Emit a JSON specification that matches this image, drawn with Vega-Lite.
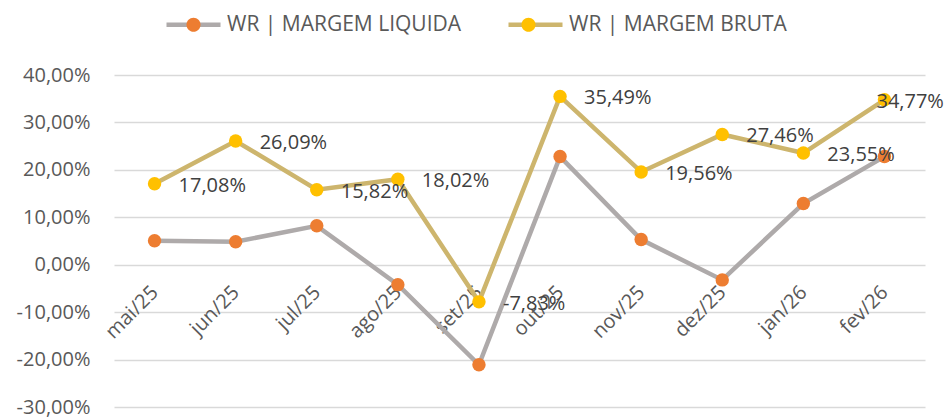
{
  "$schema": "https://vega.github.io/schema/vega-lite/v6.json",
  "width": 811,
  "height": 332,
  "autosize": {"type": "none"},
  "padding": {"left": 114, "top": 75, "right": 23, "bottom": 12},
  "config": {
    "locale": {"number": {"decimal": ",", "thousands": ".", "grouping": [3], "currency": ["R$ ", ""], "minus": "-", "percent": "%"}},
    "view": {"stroke": null},
    "font": "Open Sans"
  },
  "data": {
    "values": [
      {"mes": "mai/25", "serie": "WR | MARGEM LIQUIDA", "valor": 0.0505},
      {"mes": "jun/25", "serie": "WR | MARGEM LIQUIDA", "valor": 0.0485},
      {"mes": "jul/25", "serie": "WR | MARGEM LIQUIDA", "valor": 0.082},
      {"mes": "ago/25", "serie": "WR | MARGEM LIQUIDA", "valor": -0.042},
      {"mes": "set/25", "serie": "WR | MARGEM LIQUIDA", "valor": -0.211},
      {"mes": "out/25", "serie": "WR | MARGEM LIQUIDA", "valor": 0.228},
      {"mes": "nov/25", "serie": "WR | MARGEM LIQUIDA", "valor": 0.053},
      {"mes": "dez/25", "serie": "WR | MARGEM LIQUIDA", "valor": -0.032},
      {"mes": "jan/26", "serie": "WR | MARGEM LIQUIDA", "valor": 0.129},
      {"mes": "fev/26", "serie": "WR | MARGEM LIQUIDA", "valor": 0.228},
      {"mes": "mai/25", "serie": "WR | MARGEM BRUTA", "valor": 0.1708},
      {"mes": "jun/25", "serie": "WR | MARGEM BRUTA", "valor": 0.2609},
      {"mes": "jul/25", "serie": "WR | MARGEM BRUTA", "valor": 0.1582},
      {"mes": "ago/25", "serie": "WR | MARGEM BRUTA", "valor": 0.1802},
      {"mes": "set/25", "serie": "WR | MARGEM BRUTA", "valor": -0.0783},
      {"mes": "out/25", "serie": "WR | MARGEM BRUTA", "valor": 0.3549},
      {"mes": "nov/25", "serie": "WR | MARGEM BRUTA", "valor": 0.1956},
      {"mes": "dez/25", "serie": "WR | MARGEM BRUTA", "valor": 0.2746},
      {"mes": "jan/26", "serie": "WR | MARGEM BRUTA", "valor": 0.2355},
      {"mes": "fev/26", "serie": "WR | MARGEM BRUTA", "valor": 0.3477}
    ]
  },
  "encoding": {
    "x": {
      "field": "mes", "type": "ordinal", "sort": null,
      "scale": {"type": "point", "padding": 0.5},
      "axis": {"title": null, "domain": false, "ticks": false, "grid": false, "offset": -142,
        "labelAngle": -45, "labelAlign": "right", "labelBaseline": "middle", "labelPadding": 24,
        "labelOffset": 0, "labelFontSize": 20, "labelColor": "#595959", "labelOverlap": false}
    },
    "y": {
      "field": "valor", "type": "quantitative",
      "scale": {"domain": [-0.3, 0.4], "nice": false, "zero": false},
      "axis": {"title": null, "domain": false, "ticks": false,
        "values": [-0.3, -0.2, -0.1, 0, 0.1, 0.2, 0.3, 0.4], "format": ".2%",
        "labelFontSize": 20, "labelColor": "#595959", "labelPadding": 24,
        "gridColor": "#D9D9D9", "gridWidth": 1.5}
    }
  },
  "layer": [
    {
      "mark": {"type": "line", "strokeWidth": 4.5},
      "encoding": {
        "stroke": {
          "field": "serie", "type": "nominal",
          "sort": ["WR | MARGEM LIQUIDA", "WR | MARGEM BRUTA"],
          "scale": {"range": ["#AEAAAA", "#CDB56D"]},
          "legend": {"orient": "none", "legendX": 50, "legendY": -80, "direction": "horizontal", "title": null,
            "symbolType": "stroke", "symbolSize": 2916, "symbolStrokeWidth": 4.5,
            "labelFontSize": 21, "labelLimit": 0, "labelColor": "#595959", "labelOffset": 4, "columnPadding": 37, "padding": 0}
        }
      }
    },
    {
      "mark": {"type": "point", "filled": true, "size": 180, "opacity": 1},
      "encoding": {
        "fill": {
          "field": "serie", "type": "nominal",
          "scale": {"domain": ["WR | MARGEM LIQUIDA", "WR | MARGEM BRUTA"], "range": ["#ED7D31", "#FFC000"]},
          "legend": {"orient": "none", "legendX": 50, "legendY": -80, "direction": "horizontal", "title": null,
            "symbolType": "M0.26,0 A0.26,0.26 0 1,1 -0.26,0 A0.26,0.26 0 1,1 0.26,0 Z",
            "symbolSize": 2916, "symbolStrokeWidth": 4.5, "symbolOpacity": 1,
            "labelFontSize": 21, "labelLimit": 0, "labelColor": "#595959", "labelOpacity": 0, "labelOffset": 4, "columnPadding": 37, "padding": 0,
            "encode": {"symbols": {"update": {"stroke": {"value": "transparent"}}}}}
        }
      }
    },
    {
      "transform": [{"filter": "datum.serie == 'WR | MARGEM BRUTA' && datum.mes != 'fev/26'"}],
      "mark": {"type": "text", "align": "left", "baseline": "middle", "dx": 24, "dy": 2, "fontSize": 20, "color": "#404040"},
      "encoding": {"text": {"field": "valor", "type": "quantitative", "format": ".2%"}}
    },
    {
      "transform": [{"filter": "datum.serie == 'WR | MARGEM BRUTA' && datum.mes == 'fev/26'"}],
      "mark": {"type": "text", "align": "left", "baseline": "middle", "dx": -8, "dy": 2, "fontSize": 20, "color": "#404040"},
      "encoding": {"text": {"field": "valor", "type": "quantitative", "format": ".2%"}}
    }
  ]
}
